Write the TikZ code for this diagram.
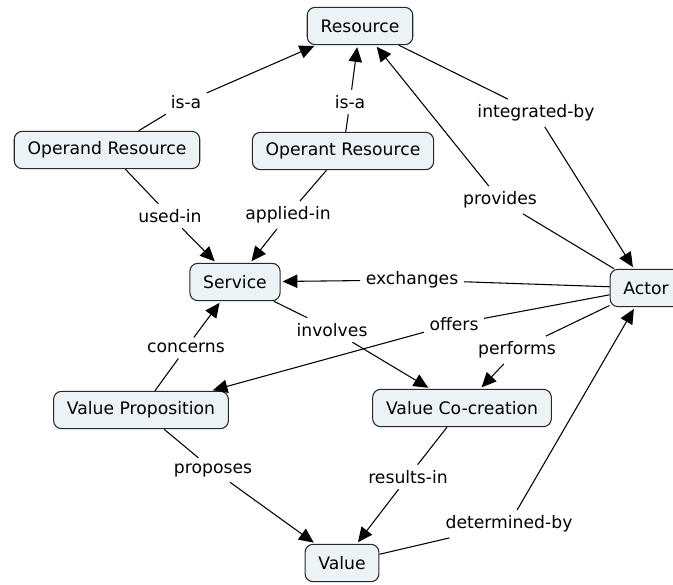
\documentclass[tikz,border=0pt]{standalone}
\usepackage{fontspec}
\setmainfont{DejaVu Sans}
\usepackage{xcolor}
\usepackage{tikz}
\usetikzlibrary{arrows.meta}
\definecolor{conceptfill}{RGB}{235, 243, 246}
\definecolor{conceptdraw}{RGB}{40, 40, 40}

\begin{document}
\begin{tikzpicture}[x=0.75pt, y=-0.75pt,
  concept/.style={rectangle, rounded corners=6pt, draw=conceptdraw, fill=conceptfill, line width=0.8pt,
    minimum height=28pt, inner xsep=10pt, font=\fontsize{12.9}{15}\selectfont},
  linkword/.style={inner sep=4pt, font=\fontsize{12.9}{15}\selectfont},
  line/.style={line width=0.8pt},
  arrow/.style={line, -{Triangle[length=11pt, width=10pt]}, shorten >=1.5pt}
]
\useasboundingbox (0,0) rectangle (673,584);

% Concepts
\node[concept] (res) at (360, 26) {Resource};
\node[concept] (operand) at (107, 150) {Operand Resource};
\node[concept] (operant) at (343, 151) {Operant Resource};
\node[concept] (service) at (235, 282) {Service};
\node[concept] (actor) at (646, 288) {Actor};
\node[concept] (valprop) at (141, 410) {Value Proposition};
\node[concept] (cocreation) at (462, 408) {Value Co-creation};
\node[concept] (value) at (342, 563) {Value};

% Linking words
\node[linkword] (isa1) at (186, 102) {is-a};
\node[linkword] (isa2) at (350, 102) {is-a};
\node[linkword] (intby) at (536, 113) {integrated-by};
\node[linkword] (provides) at (500, 200) {provides};
\node[linkword] (usedin) at (170, 216) {used-in};
\node[linkword] (appliedin) at (288, 215) {applied-in};
\node[linkword] (exchanges) at (412, 280) {exchanges};
\node[linkword] (involves) at (332, 330) {involves};
\node[linkword] (offers) at (454, 324) {offers};
\node[linkword] (performs) at (517, 350) {performs};
\node[linkword] (concerns) at (186, 348) {concerns};
\node[linkword] (proposes) at (213, 470) {proposes};
\node[linkword] (resultsin) at (408, 477) {results-in};
\node[linkword] (detby) at (509, 524) {determined-by};

% Propositions
\draw[line] (operand) -- (isa1);  \draw[arrow] (isa1) -- (res);
\draw[line] (operant) -- (isa2);  \draw[arrow] (isa2) -- (res);
\draw[line] (res) -- (intby);  \draw[arrow] (intby) -- (actor);
\draw[line] (actor) -- (provides);  \draw[arrow] (provides) -- (res);
\draw[line] (operand) -- (usedin);  \draw[arrow] (usedin) -- (service);
\draw[line] (operant) -- (appliedin);  \draw[arrow] (appliedin) -- (service);
\draw[line] (actor) -- (exchanges);  \draw[arrow] (exchanges) -- (service);
\draw[line] (service) -- (involves);  \draw[arrow] (involves) -- (cocreation);
\draw[line] (actor) -- (offers);  \draw[arrow] (offers) -- (valprop);
\draw[line] (actor) -- (performs);  \draw[arrow] (performs) -- (cocreation);
\draw[line] (valprop) -- (concerns);  \draw[arrow] (concerns) -- (service);
\draw[line] (valprop) -- (proposes);  \draw[arrow] (proposes) -- (value);
\draw[line] (cocreation) -- (resultsin);  \draw[arrow] (resultsin) -- (value);
\draw[line] (value) -- (detby);  \draw[arrow] (detby) -- (actor);
\end{tikzpicture}
\end{document}
